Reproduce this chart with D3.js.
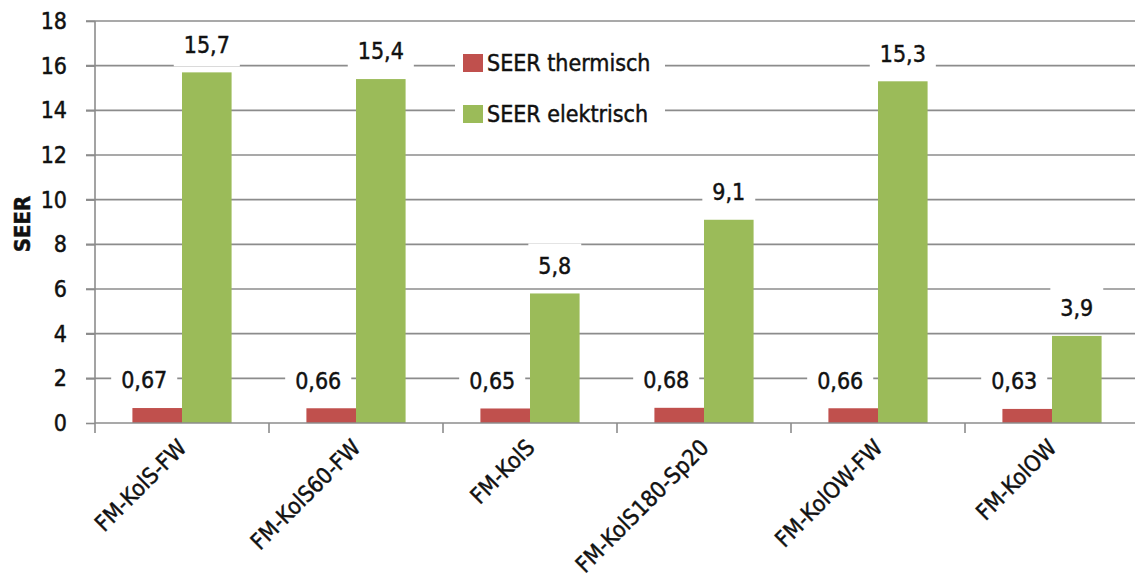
<!DOCTYPE html>
<html><head><meta charset="utf-8">
<script src="https://cdn.jsdelivr.net/npm/d3@7"></script>
<style>
html,body{margin:0;padding:0;background:#fff;}
svg text{font-family:"Liberation Sans Narrow","DejaVu Sans Condensed","Liberation Sans",sans-serif;fill:#111;stroke:#111;stroke-width:0.45px;}
</style></head>
<body><svg id="c" width="1135" height="588"></svg>
<script>
const categories = ["FM-KolS-FW","FM-KolS60-FW","FM-KolS","FM-KolS180-Sp20","FM-KolOW-FW","FM-KolOW"];
const seriesNames = ["SEER thermisch","SEER elektrisch"];
const thermisch = [0.67,0.66,0.65,0.68,0.66,0.63];
const elektrisch = [15.7,15.4,5.8,9.1,15.3,3.9];
const yTicks = [0,2,4,6,8,10,12,14,16,18];
const colors = ["#c0504d","#9bbb59"];

(function(){
const svg = d3.select("#c");
const pL = 95, pR = 1139, pT = 21, pB = 423;
const x0 = d3.scaleBand().domain(categories).range([pL,pR]).paddingInner(0.43).paddingOuter(0.215);
const x1 = d3.scaleBand().domain(seriesNames).range([0,x0.bandwidth()]);
const y = d3.scaleLinear().domain([0,18]).range([pB,pT]);
const gridColor = "#8c8c8c";

// gridlines
svg.append("g").selectAll("line").data(yTicks.filter(d=>d>0)).join("line")
  .attr("x1",pL-9).attr("x2",1135).attr("y1",d=>y(d)).attr("y2",d=>y(d))
  .attr("stroke",gridColor).attr("stroke-width",1.6);

// y axis
const yAxis = svg.append("g").attr("transform",`translate(${pL},0)`)
  .call(d3.axisLeft(y).tickValues(yTicks).tickSize(9).tickPadding(19).tickFormat(d=>d));
yAxis.select(".domain").remove();
yAxis.attr("font-family",null).attr("font-size",null);
yAxis.selectAll(".tick line").attr("stroke",gridColor).attr("stroke-width",1.6);
yAxis.selectAll(".tick text").attr("font-size",23).attr("fill","#111");
svg.append("line").attr("x1",pL).attr("x2",pL).attr("y1",pT).attr("y2",pB+10)
  .attr("stroke",gridColor).attr("stroke-width",1.6);

// bars
const series = [thermisch, elektrisch];
const groups = svg.append("g").selectAll("g").data(categories).join("g")
  .attr("transform",d=>`translate(${x0(d)},0)`);
groups.selectAll("rect").data((d,i)=>series.map((s,k)=>({k,v:s[i]}))).join("rect")
  .attr("x",d=>x1(seriesNames[d.k])).attr("width",x1.bandwidth())
  .attr("y",d=>y(d.v)).attr("height",d=>pB-y(d.v))
  .attr("fill",d=>colors[d.k]);

// x axis
svg.append("line").attr("x1",pL).attr("x2",1135).attr("y1",pB).attr("y2",pB)
  .attr("stroke",gridColor).attr("stroke-width",1.6);
const bounds = categories.map(c=>x0(c)-(x0.step()-x0.bandwidth())/2).slice(1);
svg.append("g").selectAll("line").data(bounds).join("line")
  .attr("x1",d=>d).attr("x2",d=>d).attr("y1",pB).attr("y2",pB+10)
  .attr("stroke",gridColor).attr("stroke-width",1.6);
svg.append("g").selectAll("text").data(categories).join("text")
  .attr("transform",d=>`translate(${x0(d)+x0.bandwidth()/2+6},${pB+26}) rotate(-45)`)
  .attr("text-anchor","end").attr("font-size",22.5).text(d=>d);

// data labels
const labels = [];
categories.forEach((c,i)=>{
  series.forEach((s,k)=>{
    const cx = x0(c)+x1(seriesNames[k])+x1.bandwidth()/2 + (k===0?-13:0);
    labels.push({cx, cy:y(s[i])-28, t:String(s[i]).replace(".",",")});
  });
});
const lg = svg.append("g");
labels.forEach(l=>{
  const g = lg.append("g");
  const r = g.append("rect").attr("fill","#fff");
  const t = g.append("text").attr("x",l.cx).attr("y",l.cy).attr("dy","0.36em")
    .attr("text-anchor","middle").attr("font-size",23).text(l.t);
  const w = t.node().getComputedTextLength();
  r.attr("x",l.cx-w/2-10).attr("width",w+20).attr("y",l.cy-22).attr("height",44);
});

// y title
svg.append("text").attr("transform","translate(30,224) rotate(-90)")
  .attr("text-anchor","middle").attr("font-size",22).attr("font-weight","bold").text("SEER");

// legend
const leg = svg.append("g");
leg.append("rect").attr("x",455).attr("y",40).attr("width",210).attr("height",96).attr("fill","#fff");
seriesNames.forEach((n,k)=>{
  const cy = 63 + k*51;
  leg.append("rect").attr("x",463).attr("y",cy-9).attr("width",20).attr("height",18).attr("fill",colors[k]).attr("stroke","none");
  leg.append("text").attr("x",487).attr("y",cy).attr("dy","0.36em").attr("font-size",23).text(n);
});
})();
</script></body></html>
